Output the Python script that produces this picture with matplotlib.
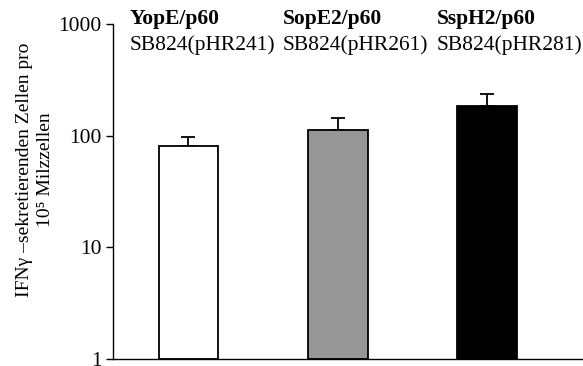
import matplotlib
matplotlib.use("Agg")
import matplotlib.pyplot as plt
import numpy as np

# IFN-gamma secreting cells per 10^5 spleen cells
constructs = ["YopE/p60", "SopE2/p60", "SspH2/p60"]
strains = ["SB824(pHR241)", "SB824(pHR261)", "SB824(pHR281)"]
means = [81, 113, 186]
errors = [17, 32, 52]
colors = ["white", "#969696", "black"]

plt.rcParams["font.family"] = ["Liberation Serif", "DejaVu Serif"]
fs_head = 15.5
fs_axis = 14

fig = plt.figure(figsize=(5.83, 3.66), dpi=100)
ax = fig.add_axes([113 / 583, 7 / 366, 470 / 583, 335 / 366])

x = np.arange(len(means))
ax.bar(x, [m - 1 for m in means], bottom=1, width=0.4, color=colors,
       edgecolor="black", linewidth=1.3, zorder=2)
ax.errorbar(x, means, yerr=[np.zeros(len(errors)), errors], fmt="none",
            ecolor="black", elinewidth=1.3, capsize=5, capthick=1.3, zorder=1)

ax.set_yscale("log")
ax.set_ylim(1, 1000)
ax.set_xlim(-0.505, 2.64)
ax.set_yticks([1, 10, 100, 1000])
ax.set_yticklabels(["1", "10", "100", "1000"])
ax.yaxis.set_minor_locator(matplotlib.ticker.NullLocator())
ax.tick_params(axis="y", direction="out", length=5, width=1,
               labelsize=15.5, pad=3)
ax.tick_params(axis="x", bottom=False, labelbottom=False)
for side in ("top", "right"):
    ax.spines[side].set_visible(False)
for side in ("left", "bottom"):
    ax.spines[side].set_linewidth(1)

# header labels above each bar
label_x = [130, 283, 437]
for lx, c, s in zip(label_x, constructs, strains):
    fig.text(lx / 583, 1 - 19 / 366, c, fontsize=fs_head, fontweight="bold",
             ha="left", va="center")
    fig.text(lx / 583, 1 - 45 / 366, s, fontsize=fs_head, ha="left", va="center")

fig.text(25 / 583, 1 - 170 / 366, "IFN\u03b3 \u2013sekretierenden Zellen pro",
         rotation=90, fontsize=fs_axis, ha="center", va="center")
fig.text(46 / 583, 1 - 170 / 366, "10\u2075 Milzzellen",
         rotation=90, fontsize=fs_axis, ha="center", va="center")

fig.savefig("out.png", dpi=100)
